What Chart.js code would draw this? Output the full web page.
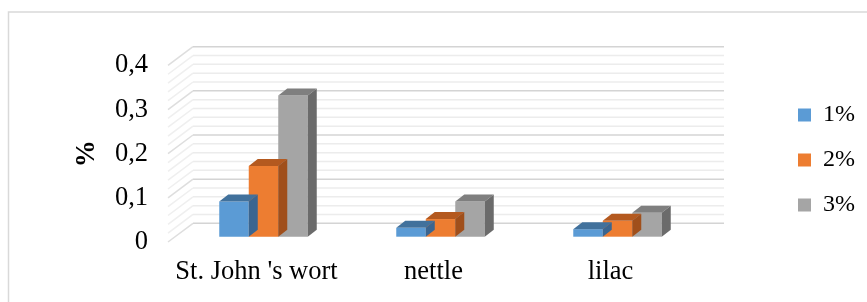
<!DOCTYPE html>
<html>
<head>
<meta charset="utf-8">
<title>3D columns</title>
<script src="https://cdn.jsdelivr.net/npm/chart.js@4.4.1/dist/chart.umd.min.js"></script>
<style>
  html, body { margin: 0; padding: 0; background: #fff; }
  canvas { display: block; }
</style>
</head>
<body>
<canvas id="chart" width="867" height="302"></canvas>
<script>
// Excel-style 3D clustered columns, faked with a small depth plugin

const categories = ["St. John 's wort", 'nettle', 'lilac'];
const seriesNames = ['1%', '2%', '3%'];
const values1 = [0.08, 0.02, 0.017];
const values2 = [0.16, 0.04, 0.036];
const values3 = [0.32, 0.08, 0.054];
const yTickLabels = ['0', '0,1', '0,2', '0,3', '0,4'];
const yMax = 0.4;
const yMajorStep = 0.1;
const yMinorStep = 0.02;

const frontColors = ['#5b9bd5', '#ed7d31', '#a5a5a5'];
const topColors = ['#41719c', '#b4591f', '#7f7f7f'];
const sideColors = ['#3a6590', '#a04f1b', '#6b6b6b'];

// depth offsets in pixels, measured from the front edge of the floor
const WALL = { dx: 25, dy: -18.7 };
const BAR_SHIFT = { dx: 7, dy: -5.3 };
const BAR_DEPTH = { dx: 9, dy: -7 };

const LEGEND_LEFT = 777;
const LEGEND_TOP = 82;

Chart.defaults.font.family = "'Liberation Serif', 'Times New Roman', serif";
Chart.defaults.color = '#000';

const depthPlugin = {
  id: 'depth',
  afterLayout(chart) {
    // park the legend at the right edge instead of hugging the plot
    const lg = chart.legend;
    const w = lg.width;
    lg.left = LEGEND_LEFT;
    lg.right = LEGEND_LEFT + w;
    lg.top = LEGEND_TOP;
    lg.bottom = chart.height;
    lg.height = lg.bottom - lg.top;
  },
  beforeDraw(chart) {
    const ctx = chart.ctx;
    ctx.save();
    ctx.fillStyle = '#fff';
    ctx.fillRect(0, 0, chart.width, chart.height);
    ctx.strokeStyle = '#d9d9d9';
    ctx.lineWidth = 1.5;
    ctx.strokeRect(8.5, 12, chart.width + 20, chart.height + 20);
    ctx.restore();
  },
  beforeDatasetsDraw(chart) {
    const { ctx, chartArea: a, scales: { y } } = chart;
    ctx.save();
    ctx.lineWidth = 1.5;
    const n = Math.round(yMax / yMinorStep);
    const every = Math.round(yMajorStep / yMinorStep);
    for (let i = 0; i <= n; i++) {
      const py = y.getPixelForValue(i * yMinorStep);
      const major = i % every === 0;
      // back wall
      ctx.strokeStyle = major ? '#d4d4d4' : '#ececec';
      ctx.beginPath();
      ctx.moveTo(a.left + WALL.dx, py + WALL.dy);
      ctx.lineTo(a.right + WALL.dx, py + WALL.dy);
      ctx.stroke();
      // side wall
      ctx.strokeStyle = major ? '#dedede' : '#efefef';
      ctx.beginPath();
      ctx.moveTo(a.left, py);
      ctx.lineTo(a.left + WALL.dx, py + WALL.dy);
      ctx.stroke();
    }
    ctx.restore();

    ctx.save();
    ctx.translate(BAR_SHIFT.dx, BAR_SHIFT.dy);
  },
  afterDatasetDraw(chart, args) {
    const ctx = chart.ctx;
    const i = args.index;
    args.meta.data.forEach(bar => {
      const { x, y, base, width } = bar.getProps(['x', 'y', 'base', 'width'], true);
      const l = x - width / 2;
      const r = x + width / 2;
      ctx.fillStyle = topColors[i];
      ctx.beginPath();
      ctx.moveTo(l, y);
      ctx.lineTo(r, y);
      ctx.lineTo(r + BAR_DEPTH.dx, y + BAR_DEPTH.dy);
      ctx.lineTo(l + BAR_DEPTH.dx, y + BAR_DEPTH.dy);
      ctx.closePath();
      ctx.fill();
      ctx.fillStyle = sideColors[i];
      ctx.beginPath();
      ctx.moveTo(r, y);
      ctx.lineTo(r + BAR_DEPTH.dx, y + BAR_DEPTH.dy);
      ctx.lineTo(r + BAR_DEPTH.dx, base + BAR_DEPTH.dy);
      ctx.lineTo(r, base);
      ctx.closePath();
      ctx.fill();
    });
  },
  afterDatasetsDraw(chart) {
    chart.ctx.restore();
  }
};

const seriesValues = [values1, values2, values3];

new Chart(document.getElementById('chart'), {
  type: 'bar',
  data: {
    labels: categories,
    datasets: seriesNames.map((name, i) => ({
      label: name,
      data: seriesValues[i],
      backgroundColor: frontColors[i],
      borderWidth: 0,
      clip: false
    }))
  },
  options: {
    responsive: false,
    animation: false,
    categoryPercentage: 0.5,
    barPercentage: 1,
    layout: { padding: { top: 65.4, bottom: 0, left: 0, right: 80 } },
    plugins: {
      tooltip: { enabled: false },
      legend: {
        position: 'right',
        align: 'start',
        labels: {
          boxWidth: 13,
          boxHeight: 13,
          padding: 21,
          color: '#000',
          font: { size: 24 }
        }
      }
    },
    scales: {
      x: {
        grid: { display: false, drawTicks: false },
        border: { display: false },
        ticks: { font: { size: 26.5 }, color: '#000', padding: 14 },
        afterFit: scale => { scale.height = 60; }
      },
      y: {
        min: 0,
        max: yMax,
        grid: { display: false, drawTicks: false },
        border: { display: false },
        ticks: {
          stepSize: yMajorStep,
          font: { size: 26.5 },
          color: '#000',
          padding: 20,
          callback: (v, idx) => yTickLabels[idx]
        },
        title: {
          display: true,
          text: '%',
          color: '#000',
          font: { size: 27, weight: 'bold' },
          padding: { top: 71, bottom: 0 }
        },
        afterFit: scale => { scale.width = 168; }
      }
    }
  },
  plugins: [depthPlugin]
});
</script>
</body>
</html>
